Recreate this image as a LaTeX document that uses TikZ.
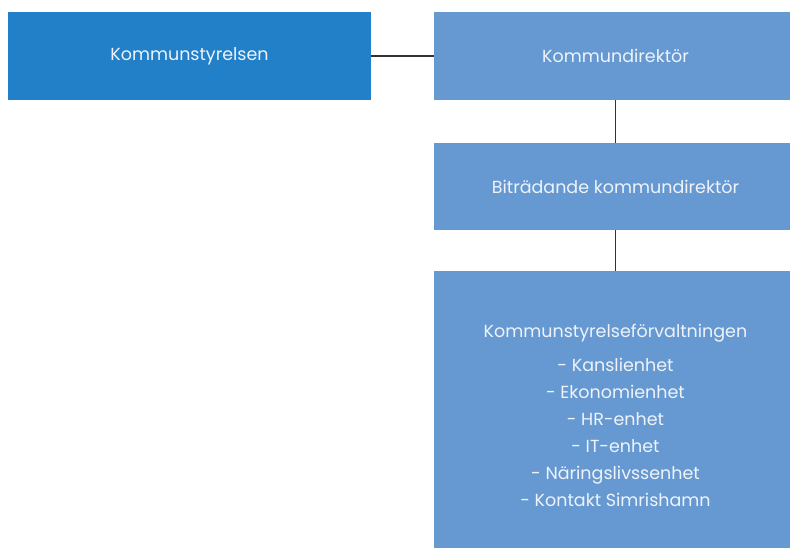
\documentclass[tikz,border=0pt]{standalone}
\usepackage{fontspec}
\setmainfont{Poppins}
\usepackage{tikz}
\usetikzlibrary{positioning}

\definecolor{ksblue}{HTML}{2180C8}
\definecolor{orgblue}{HTML}{6699D2}
\definecolor{boxtext}{HTML}{EEF3F9}

\begin{document}
\begin{tikzpicture}[x=1pt, y=-1pt]
	\clip (0,0) rectangle (790,548);
	\fill[white] (0,0) rectangle (790,548);
	\begin{scope}[every node/.style={rectangle, inner sep=0pt, text=boxtext,
	              minimum width=363pt, align=center,
	              font=\fontsize{17.5}{27}\selectfont}]
		\node[fill=ksblue, minimum height=88pt] (ks) at (189.5,56) {Kommunstyrelsen};
		\node[fill=orgblue, minimum height=88pt] (kd) at (615.5,56) {Kommundirektör};
		\node[fill=orgblue, minimum height=87pt] (bkd) at (615.5,186.5) {Biträdande kommundirektör};
		\node[fill=orgblue, minimum height=289pt] (ksf) at (615.5,415.5)
			{Kommunstyrelseförvaltningen\\[7pt]
			 - Kanslienhet\\
			 - Ekonomienhet\\
			 - HR-enhet\\
			 - IT-enhet\\
			 - Näringslivssenhet\\
			 - Kontakt Simrishamn};
	\end{scope}

	\begin{scope}[every path/.style={draw=black!80, line width=1.2pt}]
		\path (ks) -- (kd);
		\path (kd) -- (bkd);
		\path (bkd) -- (ksf);
	\end{scope}
\end{tikzpicture}
\end{document}
